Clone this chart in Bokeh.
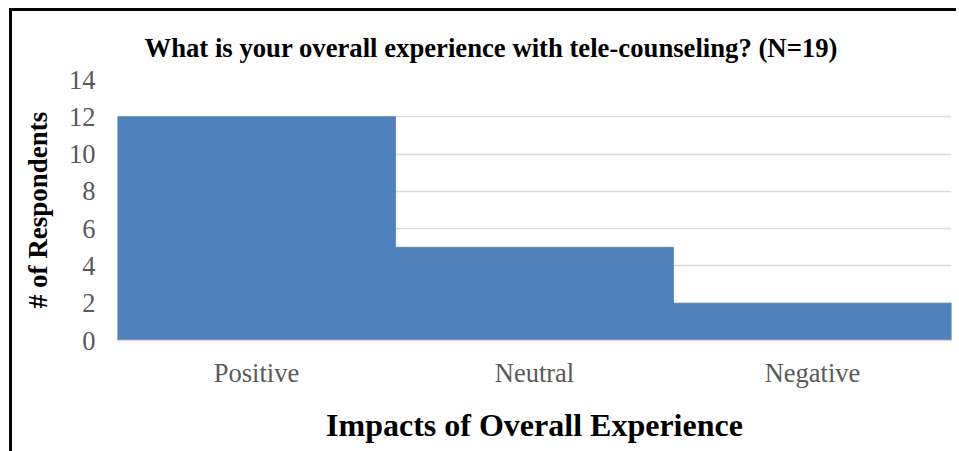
from bokeh.plotting import figure
from bokeh.models import FixedTicker, Range1d, FactorRange, ColumnDataSource
from bokeh.embed import file_html
from bokeh.resources import INLINE

categories = ["Positive", "Neutral", "Negative"]
respondents = [12, 5, 2]
y_ticks = [0, 2, 4, 6, 8, 10, 12, 14]

src = ColumnDataSource(dict(cat=categories, val=respondents))

p = figure(x_range=FactorRange(*categories, range_padding=0),
           y_range=Range1d(0, 14),
           width=947, height=443, output_backend="svg", toolbar_location=None,
           min_border_left=105, min_border_right=8, min_border_top=68, min_border_bottom=114)
p.styles = {"margin-left": "9px", "margin-top": "8px",
            "border-left": "3px solid #000", "border-top": "3px solid #000"}

p.vbar(x="cat", top="val", width=1.0, source=src, fill_color="#4F81BD",
       line_color="#4F81BD", line_width=0.8)

p.title.text = "What is your overall experience with tele-counseling? (N=19)"
p.title.align = "left"
p.title.offset = 27
p.title.standoff = 34
p.title.text_font = "Liberation Serif"
p.title.text_font_size = "26.7px"
p.title.text_font_style = "bold"
p.title.text_color = "#000000"

p.outline_line_color = None
p.xgrid.grid_line_color = None
p.ygrid.grid_line_color = "#d9d9d9"
p.ygrid.grid_line_width = 1.5
p.yaxis.ticker = FixedTicker(ticks=y_ticks)

for ax in (p.xaxis, p.yaxis):
    ax.major_label_text_font = "Liberation Serif"
    ax.major_label_text_font_size = "26.5px"
    ax.major_label_text_color = "#595959"
    ax.major_tick_line_color = None
    ax.minor_tick_line_color = None
    ax.axis_label_text_font = "Liberation Serif"
    ax.axis_label_text_font_style = "bold"
    ax.axis_label_text_color = "#000000"

p.yaxis.axis_line_color = None
p.xaxis.axis_line_color = "#d9d9d9"
p.xaxis.axis_line_width = 1.5
p.yaxis.axis_label = "# of Respondents"
p.yaxis.axis_label_text_font_size = "27px"
p.yaxis.axis_label_standoff = 13
p.xaxis.axis_label = "Impacts of Overall Experience"
p.xaxis.axis_label_text_font_size = "32px"
p.xaxis.axis_label_standoff = 16
p.xaxis.major_label_standoff = 11
p.yaxis.major_label_standoff = 16

open("out.html", "w").write(file_html(p, INLINE))
